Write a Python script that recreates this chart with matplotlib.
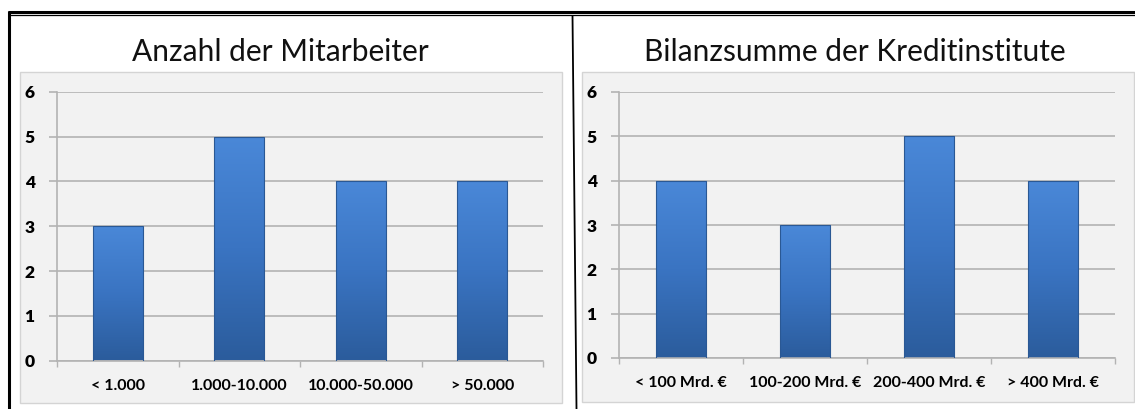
import numpy as np
import matplotlib
matplotlib.use("Agg")
import matplotlib.pyplot as plt
from matplotlib.patches import Rectangle
from matplotlib.lines import Line2D
from matplotlib.colors import LinearSegmentedColormap

# data
titles = ["Anzahl der Mitarbeiter", "Bilanzsumme der Kreditinstitute"]
staff_labels = ["< 1.000", "1.000-10.000", "10.000-50.000", "> 50.000"]
staff_counts = [3, 5, 4, 4]
assets_labels = ["< 100 Mrd. €", "100-200 Mrd. €", "200-400 Mrd. €", "> 400 Mrd. €"]
assets_counts = [4, 3, 5, 4]

W, H = 1135, 409
plt.rcParams['font.family'] = ['Lato', 'DejaVu Sans']

bar_cmap = LinearSegmentedColormap.from_list("bar", ["#2b5c9c", "#3a74c2", "#4a88d8"])


def px(x0, y0, x1, y1):
    # pixel box -> figure fraction [left, bottom, width, height]
    return [x0 / W, 1 - y1 / H, (x1 - x0) / W, (y1 - y0) / H]


def draw_panel(fig, area, axbox, title, title_x, labels, values):
    fig.patches.append(Rectangle((area[0], area[1]), area[2], area[3], transform=fig.transFigure,
                                 facecolor="#f2f2f2", edgecolor="#d4d4d4", lw=1, zorder=-5))
    fig.text(title_x / W, 1 - 52 / H, title, ha="center", va="center", fontsize=21.5, color="#111111")

    ax = fig.add_axes(axbox)
    ax.set_facecolor("none")
    x = np.arange(len(values))
    bars = ax.bar(x, values, width=0.41, color="#3a74c2", edgecolor="#2a5894", lw=0.8, zorder=3)
    grad = np.linspace(0, 1, 256).reshape(-1, 1)
    for b in bars:
        bx, by = b.get_x(), b.get_y()
        im = ax.imshow(grad, cmap=bar_cmap, aspect="auto", origin="lower",
                       extent=(bx, bx + b.get_width(), by, by + b.get_height()), zorder=2)
        im.set_clip_path(b)
        b.set_facecolor("none")

    ax.set_xlim(-0.5, len(values) - 0.5)
    ax.set_ylim(0, 6)
    ax.set_yticks(range(7))
    ax.yaxis.grid(True, color="#b3b3b3", lw=1.2)
    ax.set_axisbelow(True)
    ax.tick_params(axis="y", length=6, width=1.2, color="#b3b3b3", pad=10, labelsize=12.5)
    for t in ax.get_yticklabels():
        t.set_fontweight("heavy")

    ax.set_xticks(x)
    ax.set_xticklabels(labels, fontsize=11.5, fontweight="bold")
    ax.set_xticks(np.arange(len(values) + 1) - 0.5, minor=True)
    ax.tick_params(axis="x", which="major", length=0, pad=13)
    ax.tick_params(axis="x", which="minor", length=4, width=1, color="#b3b3b3")
    for s in ["top", "right"]:
        ax.spines[s].set_visible(False)
    for s in ["left", "bottom"]:
        ax.spines[s].set_color("#b3b3b3")
        ax.spines[s].set_linewidth(1.2)
    return ax


fig = plt.figure(figsize=(W / 100, H / 100), dpi=100)
fig.patch.set_facecolor("white")

draw_panel(fig, px(20, 72, 562, 403), px(57, 92, 543, 360.5), titles[0], 280,
           staff_labels, staff_counts)
draw_panel(fig, px(582, 72, 1134, 402), px(619, 92, 1115, 358), titles[1], 855,
           assets_labels, assets_counts)

# frame lines
def fline(x, y, lw):
    fig.lines.append(Line2D([v / W for v in x], [1 - v / H for v in y], transform=fig.transFigure,
                            color="black", lw=lw, solid_capstyle="butt"))

fline([8, W], [12, 12], 2.2)
fline([10, W], [15, 15], 0.9)
fline([9, 9], [11, H], 2.2)
fline([572.5, 576.5], [15, H], 1.3)

fig.savefig("out.png", dpi=100)
